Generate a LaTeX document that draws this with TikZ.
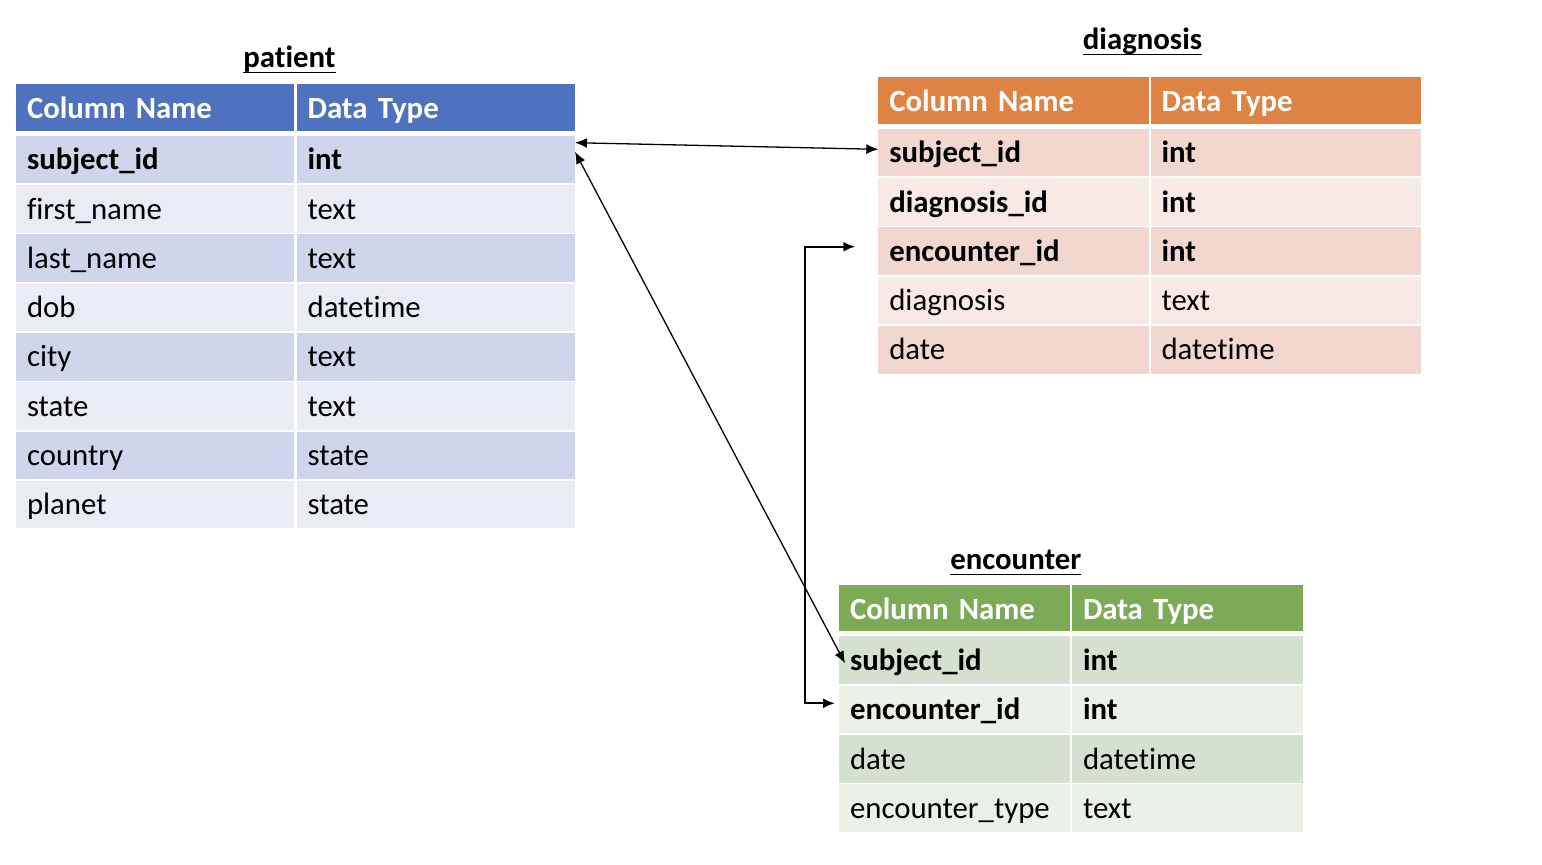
\documentclass[tikz,border=0pt]{standalone}
\usepackage{fontspec}
\setmainfont{Carlito}[Ligatures=CommonOff]
\usepackage{tikz}
\usetikzlibrary{arrows.meta, positioning}

\newcommand\tabfont{\fontsize{15.4pt}{18pt}\selectfont}
\newcommand\undl[1]{\setbox0\hbox{#1}\rlap{\vrule height -2.3pt depth 3.05pt width \wd0}\box0}

\definecolor{patHead}{RGB}{79,114,190}
\definecolor{patDark}{RGB}{207,213,234}
\definecolor{patLite}{RGB}{233,235,245}
\definecolor{diaHead}{RGB}{223,131,68}
\definecolor{diaDark}{RGB}{242,215,206}
\definecolor{diaLite}{RGB}{248,233,229}
\definecolor{encHead}{RGB}{124,170,86}
\definecolor{encDark}{RGB}{214,224,206}
\definecolor{encLite}{RGB}{235,240,232}

\begin{document}
\begin{tikzpicture}[
    x=0.5pt, y=-0.5pt,
    >={Latex[length=6pt, width=5pt]},
    font=\tabfont,
    cell/.style={rectangle, anchor=north west, outer sep=0pt, inner xsep=5.5pt, inner ysep=0pt, minimum height=23.8pt, text height=12.8pt, text depth=2.6pt, align=left},
    head/.style={cell, minimum height=23.2pt, text height=13.1pt, text depth=2.3pt, text=white, font=\tabfont\bfseries},
    title/.style={anchor=base, inner sep=0pt, font=\tabfont\bfseries},
    pcell/.style={cell, text width=128.2pt},
    dcell/.style={cell, text width=124.1pt},
    ecell/.style={cell, text width=104.5pt},
    pathead/.style={pcell, head, fill=patHead},
    patdark/.style={pcell, fill=patDark},
    patlite/.style={pcell, fill=patLite},
    diahead/.style={dcell, head, fill=diaHead},
    diadark/.style={dcell, fill=diaDark},
    dialite/.style={dcell, fill=diaLite},
    enchead/.style={ecell, head, fill=encHead},
    encdark/.style={ecell, fill=encDark},
    enclite/.style={ecell, fill=encLite},
    link/.style={draw=black, line width=0.65pt},
    elbow/.style={draw=black, line width=1.1pt}
  ]
    \useasboundingbox (0,0) rectangle (1542,864);

    % patient
    \node[title] (pat-title) at (289.5,67.3) {\undl{patient}};
    \node[pathead] (pat-hn) at (16,84.3) {Column Name};
    \node[pathead, right=1.1pt of pat-hn] (pat-ht) {Data Type};
    \node[patdark, below=2.5pt of pat-hn] (pat-n1) {\textbf{subject\_id}};
    \node[patdark, right=1.1pt of pat-n1] (pat-t1) {\textbf{int}};
    \node[patlite, below=0.85pt of pat-n1] (pat-n2) {first\_name};
    \node[patlite, right=1.1pt of pat-n2] (pat-t2) {text};
    \node[patdark, below=0.85pt of pat-n2] (pat-n3) {last\_name};
    \node[patdark, right=1.1pt of pat-n3] (pat-t3) {text};
    \node[patlite, below=0.85pt of pat-n3] (pat-n4) {dob};
    \node[patlite, right=1.1pt of pat-n4] (pat-t4) {datetime};
    \node[patdark, below=0.85pt of pat-n4] (pat-n5) {city};
    \node[patdark, right=1.1pt of pat-n5] (pat-t5) {text};
    \node[patlite, below=0.85pt of pat-n5] (pat-n6) {state};
    \node[patlite, right=1.1pt of pat-n6] (pat-t6) {text};
    \node[patdark, below=0.85pt of pat-n6] (pat-n7) {country};
    \node[patdark, right=1.1pt of pat-n7] (pat-t7) {state};
    \node[patlite, below=0.85pt of pat-n7] (pat-n8) {planet};
    \node[patlite, right=1.1pt of pat-n8] (pat-t8) {state};

    % diagnosis
    \node[title] (dia-title) at (1142.5,49) {\undl{diagnosis}};
    \node[diahead] (dia-hn) at (878.3,77.3) {Column Name};
    \node[diahead, right=1pt of dia-hn] (dia-ht) {Data Type};
    \node[diadark, below=2.5pt of dia-hn] (dia-n1) {\textbf{subject\_id}};
    \node[diadark, right=1pt of dia-n1] (dia-t1) {\textbf{int}};
    \node[dialite, below=0.85pt of dia-n1] (dia-n2) {\textbf{diagnosis\_id}};
    \node[dialite, right=1pt of dia-n2] (dia-t2) {\textbf{int}};
    \node[diadark, below=0.85pt of dia-n2] (dia-n3) {\textbf{encounter\_id}};
    \node[diadark, right=1pt of dia-n3] (dia-t3) {\textbf{int}};
    \node[dialite, below=0.85pt of dia-n3] (dia-n4) {diagnosis};
    \node[dialite, right=1pt of dia-n4] (dia-t4) {text};
    \node[diadark, below=0.85pt of dia-n4] (dia-n5) {date};
    \node[diadark, right=1pt of dia-n5] (dia-t5) {datetime};

    % encounter
    \node[title] (enc-title) at (1015.8,569.3) {\undl{encounter}};
    \node[enchead] (enc-hn) at (839,585) {Column Name};
    \node[enchead, right=1pt of enc-hn] (enc-ht) {Data Type};
    \node[encdark, below=2.5pt of enc-hn] (enc-n1) {\textbf{subject\_id}};
    \node[encdark, right=1pt of enc-n1] (enc-t1) {\textbf{int}};
    \node[enclite, below=0.85pt of enc-n1] (enc-n2) {\textbf{encounter\_id}};
    \node[enclite, right=1pt of enc-n2] (enc-t2) {\textbf{int}};
    \node[encdark, below=0.85pt of enc-n2] (enc-n3) {date};
    \node[encdark, right=1pt of enc-n3] (enc-t3) {datetime};
    \node[enclite, below=0.85pt of enc-n3] (enc-n4) {encounter\_type};
    \node[enclite, right=1pt of enc-n4] (enc-t4) {text};

    % keys
    \draw[link, <->] ([yshift=8.4pt]pat-t1.east) -- ([yshift=1.6pt]dia-n1.west);
    \draw[link, <->] ([yshift=3.9pt]pat-t1.east) -- ([xshift=3pt, yshift=-1.55pt]enc-n1.west);
    \draw[elbow, <->] ([xshift=-11.5pt, yshift=2.2pt]dia-n3.west) -- ++(-50,0) |- ([xshift=-2pt, yshift=3.1pt]enc-n2.west);
  \end{tikzpicture}
\end{document}
